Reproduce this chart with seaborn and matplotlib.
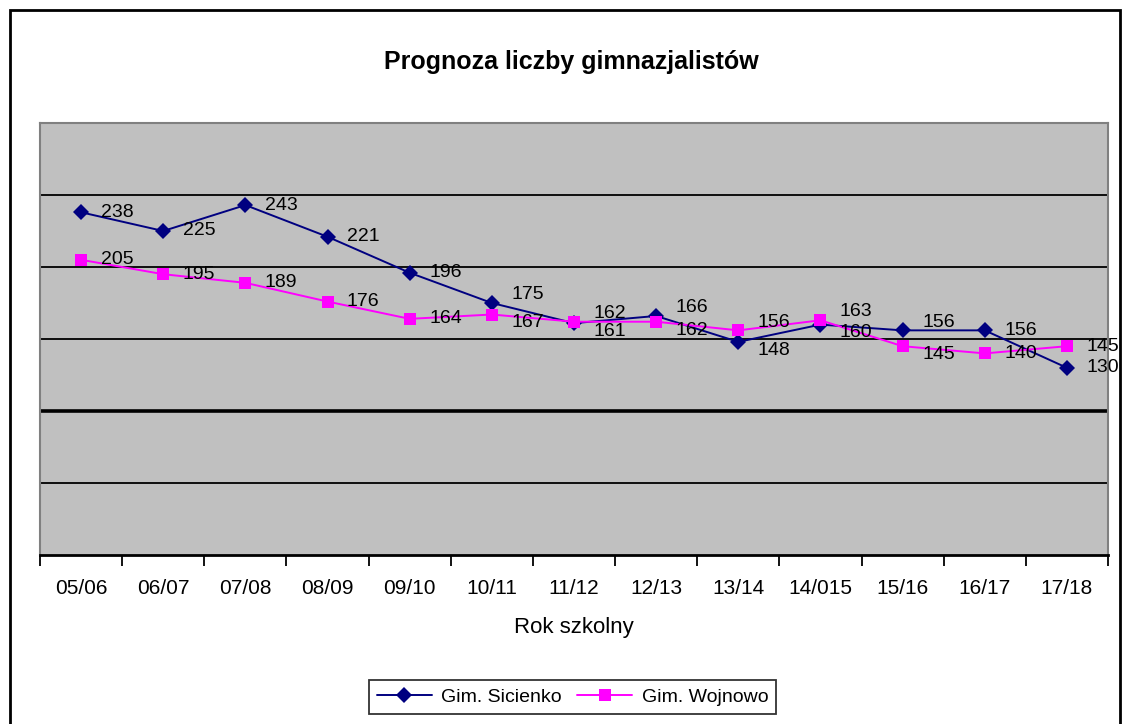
import pandas as pd
import matplotlib
matplotlib.use("Agg")
import matplotlib.pyplot as plt
import seaborn as sns
from matplotlib.patches import Rectangle

# dane z wykresu
lata = ["05/06", "06/07", "07/08", "08/09", "09/10", "10/11", "11/12",
        "12/13", "13/14", "14/015", "15/16", "16/17", "17/18"]
sicienko = [238, 225, 243, 221, 196, 175, 161, 166, 148, 160, 156, 156, 130]
wojnowo = [205, 195, 189, 176, 164, 167, 162, 162, 156, 163, 145, 140, 145]
szkoly = ["Gim. Sicienko", "Gim. Wojnowo"]

df = pd.DataFrame({
    "rok": lata * 2,
    "liczba": sicienko + wojnowo,
    "szkola": [szkoly[0]] * len(lata) + [szkoly[1]] * len(lata),
})

sns.set_style("white")
plt.rcParams["font.family"] = ["Liberation Sans", "DejaVu Sans"]
plt.rcParams["text.color"] = "black"
plt.rcParams["xtick.color"] = "black"
plt.rcParams["axes.labelcolor"] = "black"

fig = plt.figure(figsize=(11.25, 7.24), dpi=100)
ax = fig.add_axes([40 / 1125, 1 - 555 / 724, 1068 / 1125, 432 / 724])
ax.set_facecolor("#C0C0C0")

kolory = {szkoly[0]: "#000080", szkoly[1]: "#FF00FF"}
sns.lineplot(data=df, x="rok", y="liczba", hue="szkola", style="szkola",
             markers={szkoly[0]: "D", szkoly[1]: "s"}, dashes=False,
             palette=kolory, linewidth=1.4, markersize=8,
             markeredgewidth=0, ax=ax, legend=True)

# etykiety danych - przy nakladajacych sie wartosciach lekko rozsuniete
for i, r in enumerate(lata):
    dy_s, dy_w = 0, 0
    if abs(sicienko[i] - wojnowo[i]) < 12:
        if sicienko[i] >= wojnowo[i]:
            dy_s, dy_w = 6, -6
        else:
            dy_s, dy_w = -6, 6
    ax.annotate(str(sicienko[i]), (i, sicienko[i]), xytext=(14, dy_s),
                textcoords="offset points", ha="left", va="center", fontsize=14)
    ax.annotate(str(wojnowo[i]), (i, wojnowo[i]), xytext=(14, dy_w),
                textcoords="offset points", ha="left", va="center", fontsize=14)

ax.set_xlim(-0.5, len(lata) - 0.5)
ax.set_ylim(0, 300)
for v in [50, 150, 200, 250]:
    ax.axhline(v, color="black", lw=1.3, zorder=1)
ax.axhline(100, color="black", lw=2.6, zorder=1)

ax.set_yticks([])
ax.set_xticks(range(len(lata)))
ax.set_xticklabels(lata, fontsize=15)
ax.set_xticks([i - 0.5 for i in range(len(lata) + 1)], minor=True)
ax.tick_params(axis="x", which="major", length=0, pad=17)
ax.tick_params(axis="x", which="minor", length=8, width=1.3, color="black",
               direction="out", bottom=True)

for s in ["top", "right", "left"]:
    ax.spines[s].set_color("#808080")
    ax.spines[s].set_linewidth(1.5)
ax.spines["bottom"].set_color("black")
ax.spines["bottom"].set_linewidth(2)

ax.set_xlabel("Rok szkolny", fontsize=16, labelpad=14)
ax.set_ylabel("")
fig.text(0.508, 1 - 62 / 724, "Prognoza liczby gimnazjalistów", ha="center",
         va="center", fontsize=18, fontweight="bold")

h, l = ax.get_legend_handles_labels()
ax.get_legend().remove()
leg = fig.legend(h, l, loc="center", bbox_to_anchor=(0.509, 1 - 697 / 724),
                 ncol=2, fontsize=14, frameon=True, fancybox=False,
                 edgecolor="black", handlelength=2.8, columnspacing=0.8,
                 handletextpad=0.5, borderpad=0.4)
leg.get_frame().set_linewidth(1.3)

# ramka wokół wykresu
fig.patches.append(Rectangle((10 / 1125, -0.05), 1110 / 1125, 1.05 - 10 / 724,
                             transform=fig.transFigure, fill=False,
                             edgecolor="black", lw=2))

fig.savefig("out.png", dpi=100)
